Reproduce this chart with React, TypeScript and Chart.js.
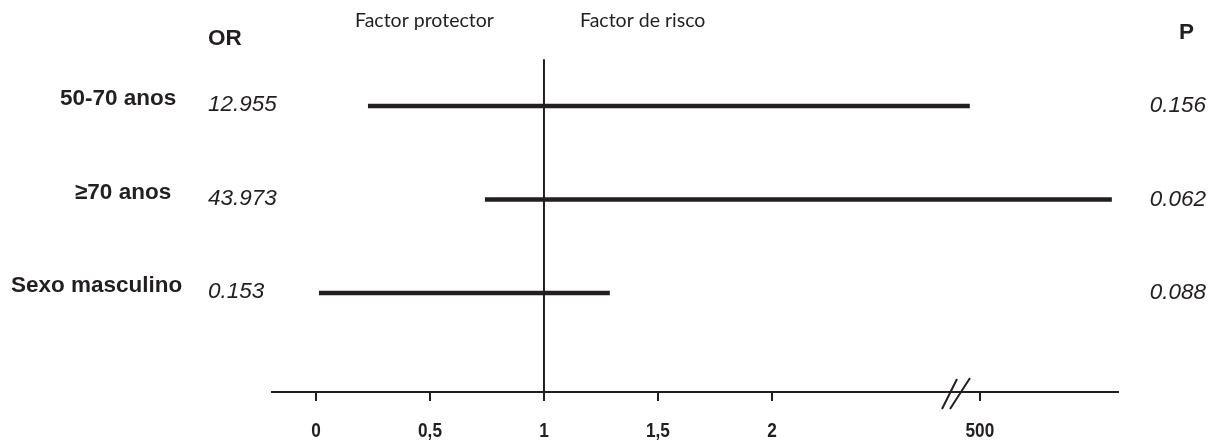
import React, { useEffect, useRef } from "react";
import { Chart, registerables } from "chart.js";

Chart.register(...registerables);

// ---- data ----
const rowLabels = ["50-70 anos", "≥70 anos", "Sexo masculino"];
const orValues = ["12.955", "43.973", "0.153"];
const pValues = ["0.156", "0.062", "0.088"];
// interval ends, in axis units (0..2 linear, 500 sits after the break at 2.912)
const ciLow = [0.228, 0.741, 0.013];
const ciHigh = [2.868, 3.491, 1.289];
const tickValues = [0, 0.5, 1, 1.5, 2, 2.912];
const tickLabels = ["0", "0,5", "1", "1,5", "2", "500"];
const referenceValue = 1;
const breakValue = 2.803;

// ---- layout / style ----
const INK = "#231f20";
const labelLeft = [60, 75, 11];
const BOLD = '"Liberation Sans", Arial, sans-serif';
const HUMANIST = 'Lato, "Open Sans", sans-serif';
const NARROW_SCALE = 0.82;

const textPlugin = {
  id: "forestText",
  afterDraw(chart: any) {
    const ctx = chart.ctx;
    const x = chart.scales.x;
    const y = chart.scales.y;
    ctx.save();
    ctx.fillStyle = INK;
    ctx.textBaseline = "middle";
    ctx.textAlign = "left";
    // headers
    ctx.font = `bold 22.5px ${BOLD}`;
    ctx.fillText("OR", 208, 39);
    ctx.fillText("P", 1179, 33);
    ctx.font = `19.5px ${HUMANIST}`;
    ctx.textBaseline = "alphabetic";
    ctx.fillText("Factor protector", 355, 27);
    ctx.fillText("Factor de risco", 580, 27);
    ctx.textBaseline = "middle";
    rowLabels.forEach((lab, i) => {
      const py = y.getPixelForValue(i + 1);
      ctx.font = `bold 22.5px ${BOLD}`;
      ctx.textAlign = "left";
      ctx.fillText(lab, labelLeft[i], py - 7);
      ctx.font = `italic 22.5px ${BOLD}`;
      ctx.fillText(orValues[i], 208, py - 1);
      ctx.textAlign = "right";
      ctx.fillText(pValues[i], 1206, py);
    });
    // narrow bold tick labels under the library's tick positions
    ctx.font = `bold 21px ${BOLD}`;
    ctx.textAlign = "center";
    ctx.textBaseline = "middle";
    x.ticks.forEach((t: any, i: number) => {
      const px = x.getPixelForValue(t.value);
      ctx.save();
      ctx.translate(px, x.top + 39);
      ctx.scale(NARROW_SCALE, 1);
      ctx.fillText(tickLabels[i], 0, 0);
      ctx.restore();
    });
    // axis break marks
    const bx = x.getPixelForValue(breakValue);
    const by = x.top;
    ctx.strokeStyle = INK;
    ctx.lineWidth = 2;
    ctx.beginPath();
    ctx.moveTo(bx - 13, by + 17);
    ctx.lineTo(bx + 2, by - 13);
    ctx.moveTo(bx - 5, by + 17);
    ctx.lineTo(bx + 15, by - 14);
    ctx.stroke();
    ctx.restore();
  },
};

export default function App() {
  const ref = useRef<HTMLCanvasElement | null>(null);
  useEffect(() => {
    document.body.style.margin = "0";
    const canvas = ref.current!;
    const datasets: any[] = rowLabels.map((lab, i) => ({
      label: lab,
      data: [
        { x: ciLow[i], y: i + 1 },
        { x: ciHigh[i], y: i + 1 },
      ],
      borderColor: INK,
      borderWidth: 4.5,
      pointRadius: 0,
      borderCapStyle: "butt",
    }));
    datasets.push({
      label: "ref",
      data: [
        { x: referenceValue, y: 0.5 },
        { x: referenceValue, y: 4.059 },
      ],
      borderColor: INK,
      borderWidth: 2,
      pointRadius: 0,
    });
    const chart = new Chart(canvas, {
      type: "line",
      data: { datasets },
      options: {
        animation: false,
        responsive: false,
        events: [],
        layout: { padding: { left: 272, right: 102, top: 0, bottom: 0 } },
        plugins: { legend: { display: false }, tooltip: { enabled: false } },
        scales: {
          x: {
            type: "linear",
            min: -0.193,
            max: 3.518,
            afterFit: (s: any) => {
              s.height = 52;
            },
            afterBuildTicks: (s: any) => {
              s.ticks = tickValues.map((v) => ({ value: v }));
            },
            ticks: {
              display: false,
              autoSkip: false,
              maxRotation: 0,
              minRotation: 0,
              callback: (_v: any, idx: number) => tickLabels[idx],
            },
            grid: {
              display: true,
              drawOnChartArea: false,
              drawTicks: true,
              tickLength: 9,
              color: INK,
              lineWidth: 2,
            },
            border: { display: true, color: INK, width: 2 },
          },
          y: {
            type: "linear",
            display: false,
            reverse: true,
            min: -0.134,
            max: 4.059,
          },
        },
      },
      plugins: [textPlugin],
    });
    return () => chart.destroy();
  }, []);
  return <canvas ref={ref} width={1220} height={444} style={{ display: "block" }} />;
}
